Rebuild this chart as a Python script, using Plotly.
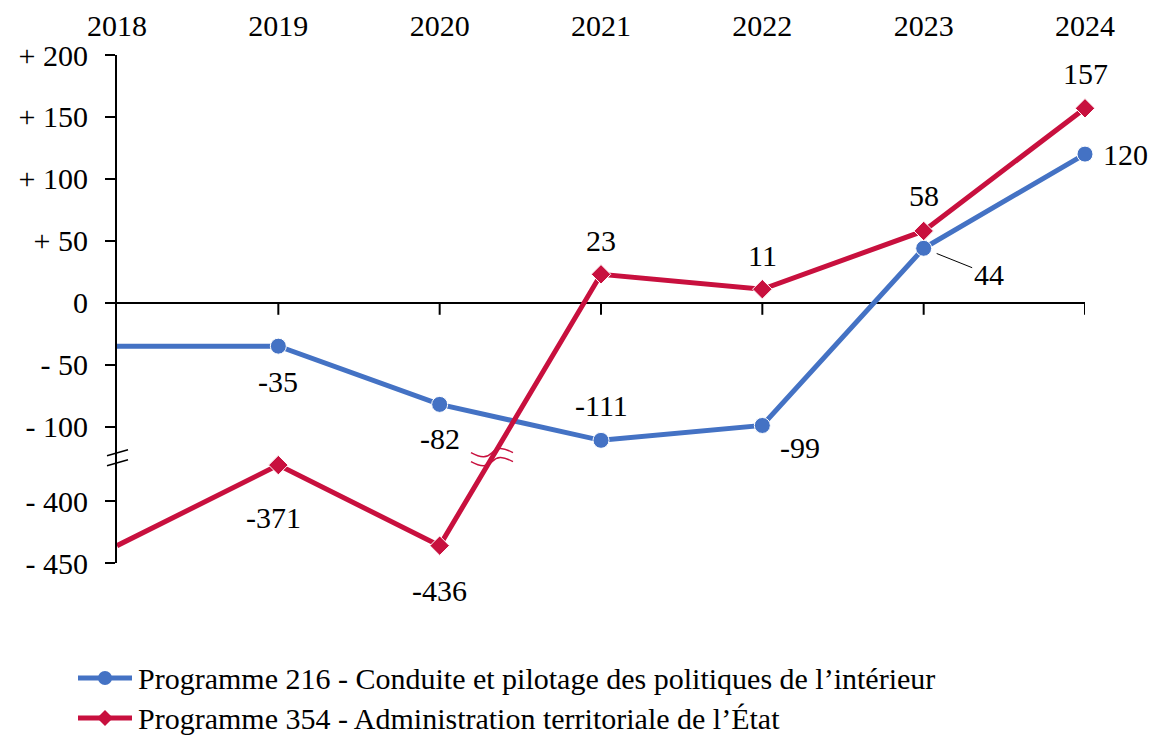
import plotly.graph_objects as go

# data
years = [2018, 2019, 2020, 2021, 2022, 2023, 2024]
prog216 = [-35, -35, -82, -111, -99, 44, 120]
prog354 = [-436, -371, -436, 23, 11, 58, 157]
name216 = "Programme 216 - Conduite et pilotage des politiques de l\u2019intérieur"
name354 = "Programme 354 - Administration territoriale de l\u2019État"
tick_values = [200, 150, 100, 50, 0, -50, -100, -400, -450]
tick_labels = ["+ 200", "+ 150", "+ 100", "+ 50", "0", "- 50", "- 100", "- 400", "- 450"]

BLUE = "#4472C4"
RED = "#C8103E"
FONT = "Liberation Serif"
FS = 30
GAP = 240  # broken axis: values below -200 are lifted by this much
BREAK_Y = -125  # where the break sits on the displayed scale

# the page body adds an 8px margin, so the figure is shrunk to fit the window
OFF = 8
W, H = 1159 - OFF, 756 - OFF
ML, MR, MT, MB = 117 - OFF, 74, 55 - OFF, 193
PW, PH = W - ML - MR, H - MT - MB


def ax(v):
    return v if v > -200 else v + GAP


def px(x):  # window pixel -> paper
    return (x - OFF - ML) / PW


def py(y):
    return (H + OFF - MB - y) / PH


# label offsets (pixels) for each point, first year carries no marker/label
off216 = [None, (0, -35), (0, -34), (0, 35), (38, -22), (65, -26), (40, 0)]
off354 = [None, (-5, -52), (0, -45), (0, 34), (0, 34), (0, 35), (0, 35)]

fig = go.Figure()
series = [(prog216, name216, BLUE, "circle", 16), (prog354, name354, RED, "diamond", 15)]
for vals, name, color, symbol, msize in series:
    fig.add_trace(go.Scatter(
        x=years, y=[ax(v) for v in vals], name=name, mode="lines+markers",
        line=dict(color=color, width=5),
        marker=dict(symbol=symbol, size=[0] + [msize] * (len(years) - 1),
                    color=color, opacity=1),
        cliponaxis=False, showlegend=False,
    ))

for vals, offs in [(prog216, off216), (prog354, off354)]:
    for yr, v, o in zip(years, vals, offs):
        if o is None:
            continue
        a = dict(x=yr, y=ax(v), text=str(v), showarrow=False,
                 xshift=o[0], yshift=o[1], font=dict(size=FS, family=FONT, color="black"))
        if v == 44:
            a.update(showarrow=True, ax=o[0], ay=-o[1], arrowhead=0, arrowwidth=1,
                     arrowcolor="black", standoff=14, xshift=0, yshift=0)
        fig.add_annotation(**a)

# year ticks hanging below the zero line
for yr in years[1:]:
    fig.add_shape(type="line", xref="x", yref="y", x0=yr, x1=yr,
                  ysizemode="pixel", yanchor=0, y0=0, y1=-12,
                  line=dict(color="black", width=2))

# break marks on the y axis
for dy in (5, -5):
    fig.add_shape(type="line", xref="paper", yref="y", xsizemode="pixel", ysizemode="pixel",
                  xanchor=0, yanchor=BREAK_Y, x0=-10, x1=11, y0=dy - 3, y1=dy + 3,
                  line=dict(color="black", width=1.5))

# break marks on the red line, where it crosses the break
x_cross = 2020 + (BREAK_Y - ax(prog354[2])) / (ax(prog354[3]) - ax(prog354[2]))
for dy in (-4, 5):
    path = (f"M -21,{dy} C -10,{dy-6} -5,{dy-5} 0,{dy} "
            f"C 5,{dy+5} 10,{dy+6} 21,{dy}")
    fig.add_shape(type="path", xref="x", yref="y", xsizemode="pixel", ysizemode="pixel",
                  xanchor=x_cross, yanchor=BREAK_Y, path=path,
                  line=dict(color=RED, width=1.5))

# legend drawn by hand so it does not push the margins
for i, (vals, name, color, symbol, msize) in enumerate(series):
    yy = py(678 + 40 * i)
    fig.add_shape(type="line", xref="paper", yref="paper", x0=px(78), x1=px(132),
                  y0=yy, y1=yy, line=dict(color=color, width=5))
    if symbol == "circle":
        fig.add_shape(type="circle", xref="paper", yref="paper", xsizemode="pixel",
                      ysizemode="pixel", xanchor=px(105), yanchor=yy,
                      x0=-7, x1=7, y0=-7, y1=7, fillcolor=color, line_width=0)
    else:
        fig.add_shape(type="path", xref="paper", yref="paper", xsizemode="pixel",
                      ysizemode="pixel", xanchor=px(105), yanchor=yy,
                      path="M 0,8 L 8,0 L 0,-8 L -8,0 Z", fillcolor=color, line_width=0)
    fig.add_annotation(xref="paper", yref="paper", x=px(136), y=yy, text=name,
                       xanchor="left", yanchor="middle", showarrow=False,
                       font=dict(size=FS, family=FONT, color="black"))

fig.update_layout(
    width=W, height=H,
    margin=dict(l=ML, r=MR, t=MT, b=MB, autoexpand=False),
    plot_bgcolor="white", paper_bgcolor="white",
    font=dict(family=FONT, size=FS, color="black"),
    showlegend=False,
    xaxis=dict(range=[2018, 2024], side="top", tickvals=years, showline=False,
               showgrid=False, zeroline=False, ticks="", ticklabelstandoff=12,
               automargin=False),
    yaxis=dict(range=[-210, 200], tickvals=[ax(v) for v in tick_values], ticktext=tick_labels,
               showline=True, linecolor="black", linewidth=2, ticks="outside", ticklen=10,
               tickwidth=2, tickcolor="black", showgrid=False, ticklabelstandoff=11,
               zeroline=True, zerolinecolor="black", zerolinewidth=2, automargin=False),
)

fig.write_html("out.html")
